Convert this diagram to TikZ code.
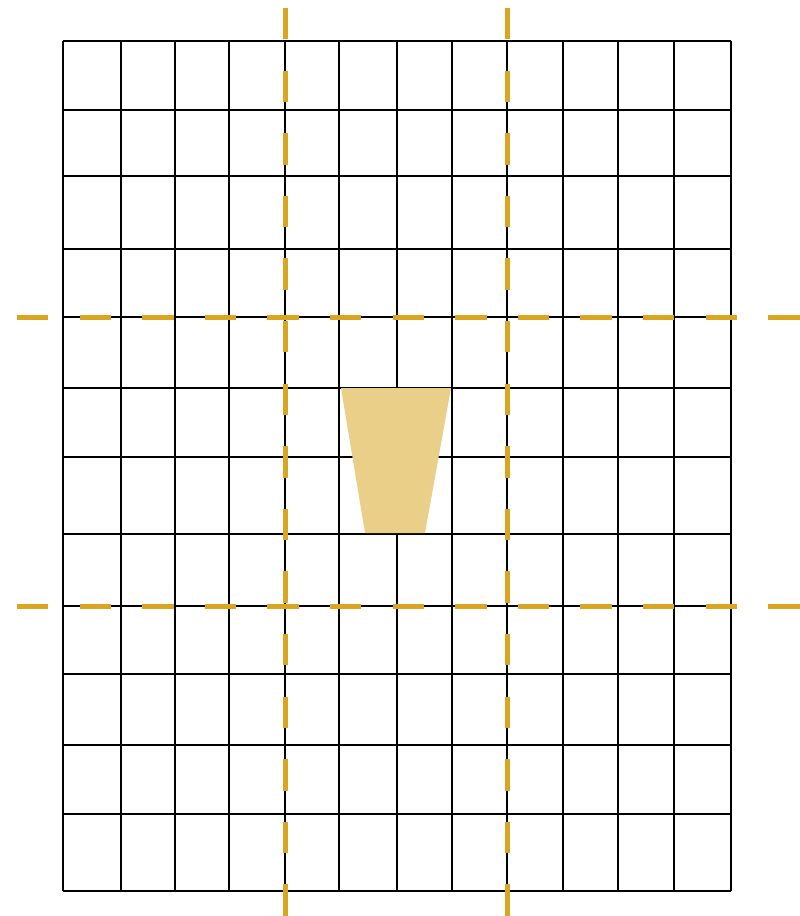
\documentclass[tikz,border=0pt]{standalone}
\definecolor{gold}{HTML}{DAA520}
\definecolor{sand}{HTML}{E9CF88}
\begin{document}
\begin{tikzpicture}[x=1pt,y=-1pt,
  gridline/.style={black,line width=1.3pt},
  guide/.style={gold,line width=5pt,dash pattern=on 31.3pt off 31.3pt}]
\useasboundingbox (0,0) rectangle (800,916);
% grid
\foreach \x in {63,121,175,229,285,339,397,452,507,563,618,674,731}
  \draw[gridline] (\x,41) -- (\x,891);
\foreach \y in {41,110,176,249,317,388,457,534,606,674,745,814,891}
  \draw[gridline] (63,\y) -- (731,\y);
% trapezoid
\fill[sand] (341,388) -- (451,388) -- (425,533) -- (365,533) -- cycle;
% guides
\coordinate (v1a) at (285,8); \coordinate (v1b) at (285,916);
\coordinate (v2a) at (507,8); \coordinate (v2b) at (507,916);
\coordinate (h1a) at (17,317); \coordinate (h1b) at (800,317);
\coordinate (h2a) at (17,606); \coordinate (h2b) at (800,606);
\draw[guide] (v1a) -- (v1b);
\draw[guide] (v2a) -- (v2b);
\draw[guide] (h1a) -- (h1b);
\draw[guide] (h2a) -- (h2b);
\end{tikzpicture}
\end{document}
